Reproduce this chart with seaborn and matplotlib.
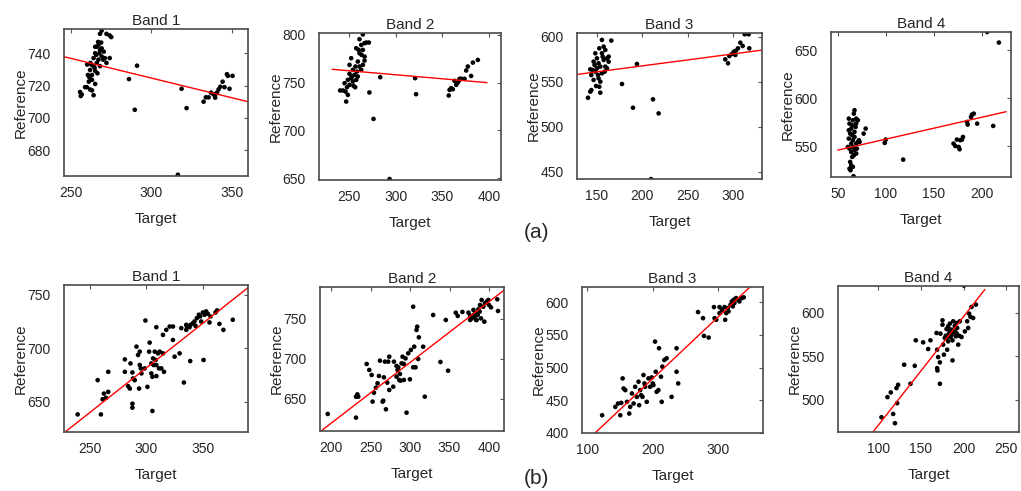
import numpy as np
import pandas as pd
import matplotlib
matplotlib.use("Agg")
import matplotlib.pyplot as plt
import seaborn as sns

# ---- data: (target, reference) pairs per band ----
# row (a)
a1_target = [255.6, 256, 256.6, 258.7, 259.8, 261, 261.8, 263, 264, 260.5, 261.8, 262.8, 264, 265, 266,
             267, 268, 269, 270, 268, 269, 272, 274, 275, 271, 274, 272, 264, 265, 266, 262, 260,
             266.4, 268, 267, 263, 265, 261.4, 264.6, 265.7, 267.6, 269, 270.3, 265, 266.8, 268.7, 263,
             286, 291, 289.6, 318.7, 321.8, 316.4,
             332.4, 333.8, 335.5, 337, 338.6, 339.6, 340.7, 341.7, 342.8, 344.2, 345.4, 346.9, 348.5, 350.4, 347.5, 339.6]
a1_ref = [716, 713.5, 714.5, 719, 719, 722.4, 717.6, 717, 714, 726.5, 729.6, 732.8, 737, 740, 744,
          745, 742, 738, 736, 752, 754, 752, 751, 750, 737, 737, 734, 732, 729, 734, 734, 733,
          727.6, 732, 736, 723.5, 721, 725, 731, 739, 740, 743, 741, 744, 747, 746.6, 726.5,
          724, 732.3, 705, 718, 706, 664.8,
          710, 712.7, 712.7, 715.6, 714.5, 712.5, 715.6, 717.6, 719.3, 722.4, 719, 727, 718, 726, 726, 714.5]

a2_target = [240.7, 243.6, 246.4, 247.1, 248.9, 248, 250.7, 248.9, 252.5, 254.3, 250.7, 254.3, 256, 257.9,
             259.6, 250.7, 252.5, 257.1, 259.6, 261.4, 257.9, 261.4, 265, 266.8, 263.2, 268.6, 271.4, 265,
             266.8, 265, 263.2, 261.4, 266.8, 255, 245.4, 253.2, 256.8, 258.6, 260.4, 263.6,
             272, 276.4, 283.6, 293.6, 321, 322,
             357, 357.9, 359.6, 361.4, 363.2, 365, 366.8, 368.6, 370.4, 373.9, 375.7, 377.5, 381, 382.9, 388.2, 367.9]
a2_ref = [741.8, 741.8, 740.7, 730.2, 737.2, 745.2, 747.7, 752.9, 754.7, 751.2, 759.2, 763.4, 758.1, 752.9,
          756.4, 768.6, 775.6, 766.9, 772.1, 780.8, 786, 795.5, 800.5, 791.3, 789.5, 792, 792, 784.3,
          777.3, 768.6, 763.4, 766.9, 773.1, 746.6, 749.4, 756.4, 745.2, 761.6, 784.3, 779.1,
          739.7, 712, 755.7, 649, 754.7, 737.9,
          736.5, 742.4, 744.2, 743.1, 751.9, 747.7, 750.1, 754, 754, 754, 762.7, 766.9, 757, 771, 773.8, 752.2]

a3_target = [140.1, 142.6, 143.8, 142.6, 143.8, 146.3, 146.3, 148.2, 148.2, 150, 150, 151.8, 151.8, 152.6,
             153.7, 155.5, 157.4, 155.5, 159.2, 157.4, 159.2, 161, 162.9, 153.7, 155.5, 151.1, 145.2, 147.4,
             153.7, 149, 158.5, 161, 165.8, 156.3, 152.6, 162.9,
             177.6, 189.7, 194.1, 211.8, 218, 209.6,
             291.5, 294.5, 296, 298.9, 301.1, 303.3, 305.5, 308.1, 310.7, 312.9, 315.1, 317.3, 318, 302.6]
a3_ref = [532.2, 538.9, 540.7, 563.7, 557.4, 551.9, 572.2, 561.1, 581.5, 575.9, 564.8, 570.4, 553.7, 544.4,
          537.8, 596.3, 588.9, 581.5, 585.2, 574.1, 566.7, 575.9, 572.2, 566.7, 559.3, 557.4, 563, 568.5,
          550, 545.2, 561.1, 564.8, 595.6, 577.8, 587, 577.8,
          547.4, 521.1, 569.6, 530.4, 514.8, 441.9,
          574.8, 570.4, 578.5, 580.7, 583.3, 584.4, 587, 593.3, 589.6, 602.6, 603.7, 602.6, 587, 579.6]

a4_target = [61.5, 62.2, 64, 65.7, 67.4, 69.2, 69.2, 70.9, 61.5, 62.9, 65.7, 67.4, 69.2, 70.9, 60.5, 62.2,
             64, 65.7, 67.4, 69.2, 65, 62.9, 64, 62.2, 63.3, 65.7, 66.4, 61.5, 67.4, 65, 68.5, 64, 66.7,
             69.9, 72, 72.7, 76.9, 79, 66.7, 65,
             98.8, 99.9, 118, 205.2, 217.4,
             170.3, 172.1, 173.8, 175.6, 176.6, 177.3, 179.1, 180.1, 184.3, 185, 189.5, 191.3, 188.5, 194.8, 211.5]
a4_ref = [578.8, 573.6, 568.4, 577.1, 587.5, 578.8, 573.6, 577.1, 558, 563.2, 556.3, 559.7, 552.8, 554.5,
          549.3, 547.6, 544.1, 549.3, 545.8, 542.4, 538.9, 533.7, 530.2, 526.7, 525, 528.5, 518.8, 566.7,
          565, 561.5, 570.1, 552.8, 540.6, 547.6, 556.3, 554.5, 563.2, 568.4, 584, 571.9,
          553.5, 557, 536.1, 669, 658,
          552.8, 550.3, 557, 549.3, 546.9, 556.3, 557, 559.7, 575.3, 572.6, 583, 584, 580.6, 573.6, 571.2]

# row (b)
b1_target = [239.1, 256.8, 259.7, 261.2, 262.4, 264.1, 266.2, 266.2, 280.9, 283.8, 285.3, 280.9, 285.9,
             287.6, 288.2, 289.7, 287.6, 287.6, 291.2, 292.6, 294.1, 294.1, 295, 293.5, 295.6, 298.5,
             299.1, 300.9, 302.4, 302.9, 304.4, 304.4, 305.3, 305.3, 305.9, 307.4, 306.5, 308.2, 308.8,
             308.8, 310.3, 311.2, 311.8, 314.7, 313.2, 315.6, 308.8, 314.7, 317.6, 320.6, 323.5, 325,
             323.5, 329.4, 330.9, 333.2, 335.3, 335.9, 338.2, 339.1, 341.2, 338.8, 342.6, 343.5, 344.7,
             346.5, 347.6, 348.5, 350, 351.5, 352.9, 354.4, 350.6, 356.8, 361.2, 362.6, 355.9, 364.7,
             368.2, 376.5, 335.3]
b1_ref = [638.4, 670.3, 638.4, 652.5, 657.8, 653.8, 659.4, 678.1, 678.1, 664.7, 662.5, 689.7, 685.9,
          677.5, 671.9, 670.3, 648.4, 644.7, 701.6, 693.8, 696.9, 684.4, 681.3, 662.5, 676.6, 681.3,
          725.9, 664.1, 696.9, 705.3, 685.9, 676.6, 673.4, 641.6, 690.6, 696.9, 684.4, 689.1, 684.4,
          674.1, 695.3, 681.3, 696.9, 695.3, 681.3, 678.1, 719.7, 712.5, 717.2, 720.3, 707.8, 692.2,
          720.3, 695.3, 718.8, 668.1, 717.2, 720.3, 719.7, 721.9, 723.4, 688.1, 725, 720.9, 728.1,
          731.3, 729.7, 725, 733.4, 731.3, 734.4, 732.2, 689.1, 729.7, 733.4, 735.3, 724.1, 722.8,
          717.2, 726.6, 721.9]

b2_target = [195.8, 231.6, 231.6, 233.3, 234.5, 245.1, 248.4, 251.4, 252.6, 254.3, 256.8, 258.9, 260.6,
             261.9, 265.3, 266.1, 266.9, 268.2, 269.5, 271.2, 272.4, 273.7, 273.7, 278.7, 279.6, 282.9,
             282.9, 284.2, 285.1, 286.3, 287.2, 288, 289.3, 290.5, 292.2, 292.2, 294.3, 295.6, 297.7,
             299.8, 301.1, 304, 304, 305.3, 307, 308.2, 309.1, 310.3, 311.2, 316.6, 318.7, 329.3, 338.5,
             345.3, 348.2, 357.9, 360.4, 366.3, 374, 376.1, 376.1, 378.2, 380.3, 381.5, 383.2, 384.4,
             385.7, 386.5, 388.6, 389.9, 390.7, 392.8, 394.1, 394.9, 397.1, 399.2, 400, 402.5, 410.5,
             411.4, 383.6, 380.2, 388.2]
b2_ref = [631.3, 626.7, 652.9, 655.8, 652.9, 693.8, 686.3, 680, 646.7, 657.9, 664.2, 669.6, 678.8,
          697.9, 646.7, 647.9, 677.1, 696.7, 637.1, 670.4, 696.7, 702.9, 661.3, 665.4, 696.7, 691.3,
          677.9, 686.3, 689.6, 673.8, 681.3, 672.9, 694.6, 702.9, 693.8, 673.8, 700.8, 632.9, 707.1,
          674.6, 711.3, 765.4, 689.6, 715.4, 689.6, 736.3, 740.4, 700, 727.1, 715.4, 652.9, 755, 696.3,
          748.8, 685.4, 757.9, 753.8, 758.8, 757.9, 753.8, 748.8, 750.8, 761.3, 752.9, 757.1, 748.8,
          755, 762.1, 767.5, 750.8, 773.8, 765.4, 746.7, 769.6, 771.7, 773.8, 767.5, 764.6, 774.6,
          760, 748.8, 755, 759.2]

b3_target = [122.8, 143, 147.1, 152.1, 150.6, 154.2, 155.7, 158.2, 160.8, 164.3, 165.8, 168.4, 171, 173.4,
             175.9, 178.5, 179.5, 181, 182.5, 184.6, 186.1, 187.6, 188.6, 191.1, 193.7, 196.2, 198.7,
             200.3, 201.3, 203.8, 204.8, 206.3, 208.9, 209.9, 212.9, 214, 215, 218, 221.5, 229.1, 236.7,
             236.7, 239.2, 269.6, 277.2, 278.7, 285.8, 293.9, 294.9, 297.5, 302.5, 302.5, 306.1, 310.1,
             312.7, 315.2, 316.2, 319.2, 321.3, 324.3, 325.3, 327.8, 330.4, 332.9, 336.5, 339.5, 322.8,
             311.1]
b3_ref = [427.1, 439.9, 445, 446, 427.1, 483.4, 468, 465.5, 447.6, 429.7, 439.9, 460.4, 445, 470.6,
          455.2, 478.3, 442.5, 465.5, 457.8, 455.2, 488.5, 475.7, 470.6, 447.6, 483.4, 470.6, 484.9,
          475.7, 473.1, 539.6, 493.6, 462.9, 465.5, 529.4, 485.9, 447.6, 501.3, 511.5, 514.1, 455.2,
          529.4, 493.6, 475.7, 584.7, 575.4, 548.3, 545.8, 592.3, 575.4, 572.9, 592.3, 583.1, 588.2,
          592.3, 583.1, 590.8, 585.7, 595.9, 601, 603.6, 598.5, 606.1, 603.6, 601, 606.1, 607.2, 593.4,
          572.9]

b4_target = [103.9, 110.9, 114.8, 117.6, 119.7, 121.5, 122.3, 123.4, 137.9, 130.5, 142.9, 144.1, 152.7,
             158.6, 161.3, 168.4, 169.1, 170.3, 169.1, 169.5, 172.3, 172.3, 173, 175.4, 175.4, 176.2, 177,
             178.1, 179.3, 180.1, 180.9, 182, 182, 183.2, 184, 184.8, 186, 187.1, 187.9, 188.7, 189.8,
             191, 191.8, 192.6, 193.8, 194.9, 195.7, 197.7, 200.4, 201.6, 204.3, 205.5, 206.6, 208.2,
             209.4, 211.3, 214.5, 186, 189.8, 184, 180.1, 191.8, 187.1]
b4_ref = [480, 503.1, 508.5, 483.8, 473.1, 513.5, 496.2, 517.3, 518.5, 540.4, 539.2, 568.5, 566.2,
          558.5, 568.5, 576.9, 557.7, 549.2, 536.5, 533.8, 518.5, 543.1, 576.2, 591.5, 586.5, 563.5, 552,
          571.2, 573.8, 581.5, 557.7, 584.6, 567.3, 576.9, 587.7, 572.3, 580.8, 545.4, 590.4, 577.7, 585,
          573.1, 588.5, 582.7, 563.5, 573.8, 590.4, 572.3, 631.5, 578.8, 590.4, 582.7, 599.2, 595.4,
          606.9, 594.2, 609.6, 575, 578.8, 580.8, 571.2, 576.9, 568.5]

# red fitted lines, end points
fit_x = [[245, 360], [232, 398], [128, 332], [50, 225],
         [228, 393], [186, 419], [112, 349], [94, 225]]
fit_y = [[738, 710], [764, 750], [558, 585], [546, 586],
         [622, 759], [609, 786], [400, 623], [463, 627]]

targets = [a1_target, a2_target, a3_target, a4_target, b1_target, b2_target, b3_target, b4_target]
refs = [a1_ref, a2_ref, a3_ref, a4_ref, b1_ref, b2_ref, b3_ref, b4_ref]
titles = ["Band 1", "Band 2", "Band 3", "Band 4"] * 2

xlims = [(245.6, 360), (218, 413), (128, 332), (43, 230),
         (227, 390), (186, 419), (92, 369), (53, 265)]
ylims = [(664, 755), (648, 802), (442, 604), (518, 669),
         (622, 759), (610, 790), (400, 623), (463, 631)]
xticks = [[250, 300, 350], [250, 300, 350, 400], [150, 200, 250, 300], [50, 100, 150, 200],
          [250, 300, 350], [200, 250, 300, 350, 400], [100, 200, 300], [100, 150, 200, 250]]
yticks = [[680, 700, 720, 740], [650, 700, 750, 800], [450, 500, 550, 600], [550, 600, 650],
          [650, 700, 750], [650, 700, 750], [400, 450, 500, 550, 600], [500, 550, 600]]

# axes boxes in pixels: left, top, right, bottom
boxes = [(64, 29, 248, 176), (319, 33, 501, 180), (577, 33, 762, 179), (831, 32, 1011, 177),
         (64, 285, 248, 432), (320, 287, 504, 431), (582, 287, 763, 433), (838, 286, 1019, 432)]

W, H = 1021, 491

sns.set_style("white")
plt.rcParams['font.family'] = ['Liberation Sans', 'DejaVu Sans']

fig = plt.figure(figsize=(W / 100, H / 100), dpi=100)

for i in range(8):
    l, t, r, b = boxes[i]
    ax = fig.add_axes([l / W, 1 - b / H, (r - l) / W, (b - t) / H])
    df = pd.DataFrame({"Target": targets[i], "Reference": refs[i]})
    sns.scatterplot(data=df, x="Target", y="Reference", ax=ax, color="black", s=11,
                    edgecolor="none")
    line_df = pd.DataFrame({"x": fit_x[i], "y": fit_y[i]})
    sns.lineplot(data=line_df, x="x", y="y", ax=ax, color="red", linewidth=1.0)
    ax.set_xlim(*xlims[i])
    ax.set_ylim(*ylims[i])
    ax.set_xticks(xticks[i])
    ax.set_yticks(yticks[i])
    ax.tick_params(direction="in", length=3, width=0.8, color="#555555",
                   top=True, right=True, labelsize=10)
    ax.tick_params(axis="x", pad=7.5)
    ax.tick_params(axis="y", pad=9.5)
    ax.set_title(titles[i], fontsize=11, pad=3)
    ax.set_xlabel("Target", fontsize=11, labelpad=8)
    ax.set_ylabel("Reference", fontsize=11, labelpad=0)
    for sp in ax.spines.values():
        sp.set_visible(True)
        sp.set_color("#4a4a4a")
        sp.set_linewidth(1.2)

fig.text(536 / W, 1 - 232 / H, "(a)", ha="center", va="center", fontsize=15)
fig.text(536 / W, 1 - 478 / H, "(b)", ha="center", va="center", fontsize=15)

fig.savefig("out.png", dpi=100)
